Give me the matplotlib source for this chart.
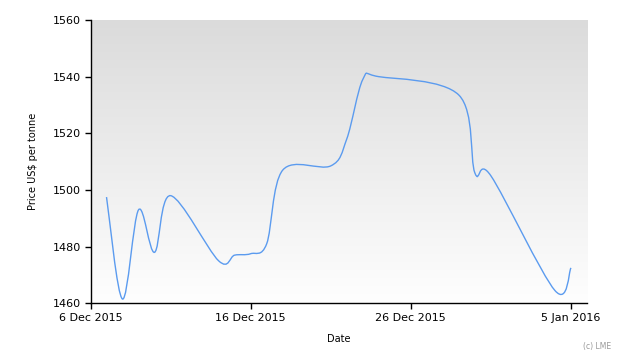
import numpy as np
import pandas as pd
import matplotlib
matplotlib.use('Agg')
import matplotlib.pyplot as plt
import matplotlib.dates as mdates
from matplotlib.path import Path
from matplotlib.patches import PathPatch
from matplotlib.colors import LinearSegmentedColormap
from matplotlib.ticker import FuncFormatter

# LME price, trading days only
dates = ['2015-12-07', '2015-12-08', '2015-12-09', '2015-12-10', '2015-12-11',
         '2015-12-14', '2015-12-15', '2015-12-16', '2015-12-17', '2015-12-18',
         '2015-12-21', '2015-12-22', '2015-12-23', '2015-12-24',
         '2015-12-29', '2015-12-30', '2015-12-31',
         '2016-01-04', '2016-01-05']
prices = [1497.5, 1461.5, 1493.0, 1478.0, 1498.0,
          1475.0, 1477.0, 1477.5, 1481.0, 1507.0,
          1508.5, 1518.0, 1539.0, 1540.0,
          1533.5, 1506.0, 1505.0,
          1464.5, 1472.5]
x_ticks = ['2015-12-06', '2015-12-16', '2015-12-26', '2016-01-05']

x = mdates.date2num(pd.to_datetime(dates))
y = np.array(prices)


# cardinal spline through the points (same look as the original smooth line)
def spline_path(x, y, tension=0.5):
    pts = np.column_stack([x, y])
    n = len(pts)
    verts = [pts[0]]
    codes = [Path.MOVETO]
    for i in range(n - 1):
        p0 = pts[max(i - 1, 0)]
        p1 = pts[i]
        p2 = pts[i + 1]
        p3 = pts[min(i + 2, n - 1)]
        verts += [p1 + tension / 3 * (p2 - p0), p2 - tension / 3 * (p3 - p1), p2]
        codes += [Path.CURVE4] * 3
    return Path(verts, codes)


plt.rcParams['font.family'] = 'DejaVu Sans'
fig = plt.figure(figsize=(6.3, 3.6), dpi=100)
ax = fig.add_axes([90.5 / 630, 1 - 303.3 / 360, (587 - 90.5) / 630, (303.3 - 20) / 360])

# grey-to-white background
bg = LinearSegmentedColormap.from_list('bg', ['#fefefe', '#dbdbdb'])
ax.imshow(np.linspace(0, 1, 256).reshape(-1, 1), extent=[0, 1, 0, 1], transform=ax.transAxes,
          cmap=bg, aspect='auto', origin='lower', zorder=0)

ax.add_patch(PathPatch(spline_path(x, y), facecolor='none', edgecolor='#5b9bef', lw=1.0, zorder=3))

ax.set_xlim(mdates.date2num(pd.Timestamp('2015-12-06')), mdates.date2num(pd.Timestamp('2016-01-06')))
ax.set_ylim(1460, 1560)
ax.set_yticks(np.arange(1460, 1561, 20))
ax.set_xticks(mdates.date2num(pd.to_datetime(x_ticks)))
ax.xaxis.set_major_formatter(FuncFormatter(lambda v, p: '{} {}'.format(mdates.num2date(v).day, mdates.num2date(v).strftime('%b %Y'))))

for s in ['top', 'right']:
    ax.spines[s].set_visible(False)
for s in ['left', 'bottom']:
    ax.spines[s].set_linewidth(1.0)
    ax.spines[s].set_color('black')
ax.tick_params(direction='out', length=4, width=1, labelsize=8, colors='black')
ax.tick_params(axis='x', pad=3)
ax.tick_params(axis='y', pad=3)

fig.text(33 / 630, 1 - 161 / 360, 'Price US$ per tonne', rotation=90, ha='center', va='center', fontsize=7)
fig.text(338.5 / 630, 1 - 339 / 360, 'Date', ha='center', va='center', fontsize=7)
fig.text(597 / 630, 1 - 346 / 360, '(c) LME', ha='center', va='center', fontsize=5.5, color='#999999')

fig.savefig('out.png', dpi=100)
